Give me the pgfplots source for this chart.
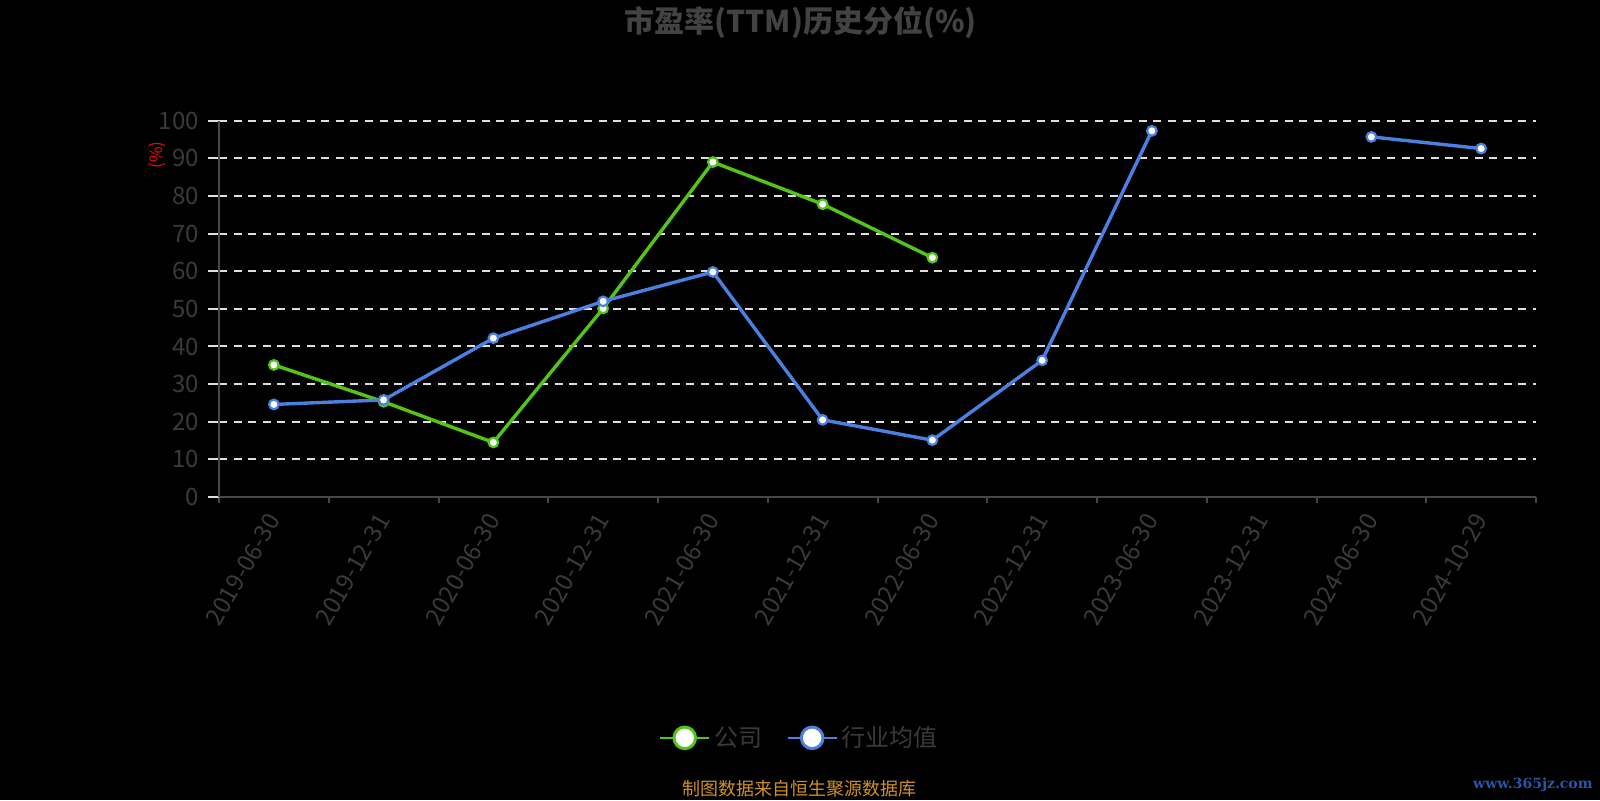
\documentclass[border=0pt]{standalone}
\usepackage{pgfplots}
\pgfplotsset{compat=1.18}
\usepackage{fontspec}
\setmainfont{Noto Sans CJK SC}
\newfontfamily\wmfont{DejaVu Serif}
\definecolor{cgreen}{RGB}{82,196,26}
\definecolor{cblue}{RGB}{74,128,224}
\definecolor{txtgray}{RGB}{58,58,58}
\definecolor{titlegray}{RGB}{66,66,66}
\definecolor{axgray}{RGB}{72,72,72}
\definecolor{gridc}{RGB}{222,222,222}
\definecolor{srcgold}{RGB}{205,145,40}
\definecolor{wmblue}{RGB}{40,85,170}
\begin{document}
\begin{tikzpicture}
\fill[black] (0pt,0pt) rectangle (800pt,400pt);
\begin{axis}[
  at={(109.5pt,151.5pt)}, anchor=south west,
  scale only axis, width=658.5pt, height=188.15pt,
  xmin=-0.5, xmax=11.5, ymin=0, ymax=100,
  axis x line*=bottom, axis y line*=left,
  axis line style={draw=axgray, line width=1pt, -},
  xtick={0,...,11},
  xticklabels={2019-06-30,2019-12-31,2020-06-30,2020-12-31,2021-06-30,2021-12-31,2022-06-30,2022-12-31,2023-06-30,2023-12-31,2024-06-30,2024-10-29},
  minor xtick={-0.5,0.5,...,11.5},
  xtick style={draw=none},
  minor x tick style={draw=axgray, line width=1pt},
  minor tick length=3pt,
  ytick={0,10,...,100},
  ytick style={draw=gridc, line width=1pt},
  major tick length=5.5pt,
  tick align=outside,
  ymajorgrids,
  y grid style={draw=gridc, line width=1pt, dash pattern=on 4pt off 3.3pt},
  ticklabel style={font=\fontsize{12pt}{14pt}\selectfont, text=txtgray},
  /pgf/number format/assume math mode=true,
  yticklabel style={anchor=east, xshift=-1pt},
  xticklabel style={rotate=60, anchor=east, yshift=-2pt},
  unbounded coords=jump,
  legend style={at={(0.4415,-0.64)}, anchor=center, draw=none, fill=none,
    text=txtgray, font=\fontsize{12pt}{14pt}\selectfont,
    /tikz/every even column/.append style={column sep=10pt}},
  legend columns=2,
]
\addplot[cgreen, line width=1.7pt, mark=*, mark size=2.4pt,
  mark options={fill=white, draw=cgreen, line width=1.1pt},
  legend image code/.code={
    \draw[cgreen, line width=1.2pt] (0pt,0pt) -- (24.5pt,0pt);
    \draw[cgreen, fill=white, line width=1.5pt] (12.25pt,0pt) circle (5.4pt);}]
coordinates {(0,35.1) (1,25.3) (2,14.5) (3,50.1) (4,89.0) (5,77.8) (6,63.6)};
\addlegendentry{公司}
\addplot[cblue, line width=1.7pt, mark=*, mark size=2.4pt,
  mark options={fill=white, draw=cblue, line width=1.1pt},
  legend image code/.code={
    \draw[cblue, line width=1.2pt] (0pt,0pt) -- (24.5pt,0pt);
    \draw[cblue, fill=white, line width=1.5pt] (12.25pt,0pt) circle (5.4pt);}]
coordinates {(0,24.6) (1,25.8) (2,42.2) (3,52.0) (4,59.8) (5,20.5) (6,15.1) (7,36.3) (8,97.3) (9,nan) (10,95.7) (11,92.6)};
\addlegendentry{行业均值}
\end{axis}
\node[text=titlegray, font=\fontsize{15pt}{18pt}\selectfont\bfseries] at (400.25pt,388.75pt) {市盈率(TTM)历史分位(\%)};
\node[text=red, rotate=90, font=\fontsize{8.5pt}{10pt}\selectfont] at (78.5pt,322.5pt) {(\%)};
\node[text=srcgold, font=\fontsize{9pt}{11pt}\selectfont] at (399.75pt,5.5pt) {制图数据来自恒生聚源数据库};
\node[text=wmblue, anchor=east, inner sep=0pt, font=\wmfont\bfseries\fontsize{7pt}{8pt}\selectfont] at (796.5pt,7.5pt) {www.365jz.com};
\pgfresetboundingbox
\useasboundingbox (0pt,0pt) rectangle (800pt,400pt);
\end{tikzpicture}
\end{document}
